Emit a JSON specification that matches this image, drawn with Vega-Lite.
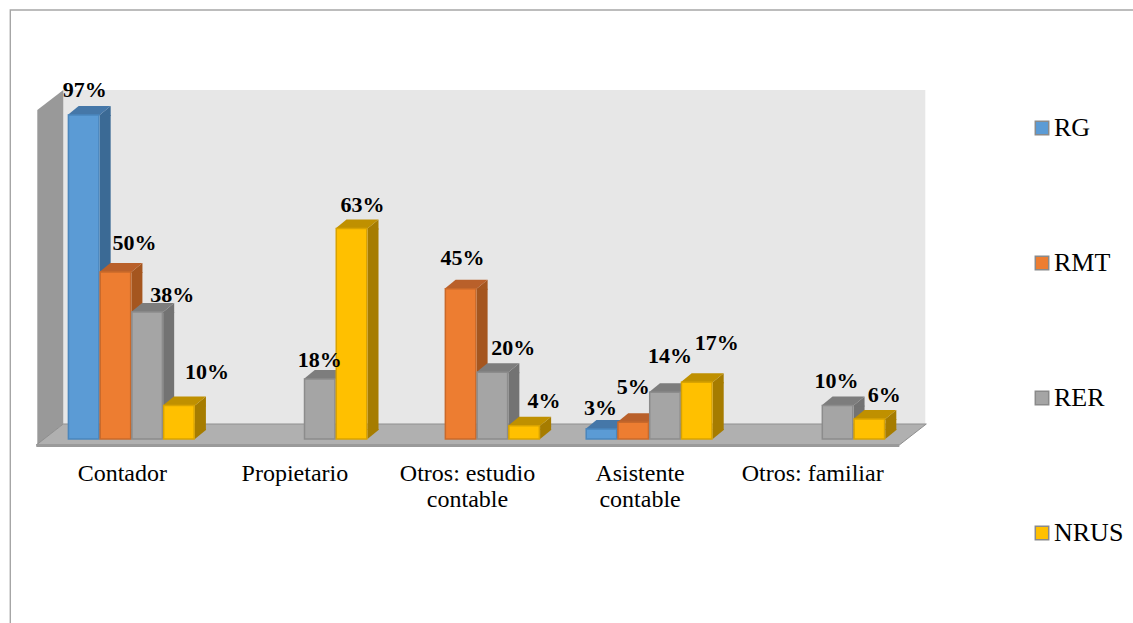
{
"$schema":"https://vega.github.io/schema/vega-lite/v6.json",
"autosize":{"type":"none"},
"padding":{"left":45,"top":0,"right":225,"bottom":184},
"width":863,"height":439,
"background":"white",
"view":{"stroke":null},
"datasets":{"barras":[
{"categoria":"Contador","serie":"RG","valor":0.97},
{"categoria":"Contador","serie":"RMT","valor":0.50},
{"categoria":"Contador","serie":"RER","valor":0.38},
{"categoria":"Contador","serie":"NRUS","valor":0.10},
{"categoria":"Propietario","serie":"RER","valor":0.18},
{"categoria":"Propietario","serie":"NRUS","valor":0.63},
{"categoria":"Otros: estudio contable","serie":"RMT","valor":0.45},
{"categoria":"Otros: estudio contable","serie":"RER","valor":0.20},
{"categoria":"Otros: estudio contable","serie":"NRUS","valor":0.04},
{"categoria":"Asistente contable","serie":"RG","valor":0.03},
{"categoria":"Asistente contable","serie":"RMT","valor":0.05},
{"categoria":"Asistente contable","serie":"RER","valor":0.14},
{"categoria":"Asistente contable","serie":"NRUS","valor":0.17},
{"categoria":"Otros: familiar","serie":"RER","valor":0.10},
{"categoria":"Otros: familiar","serie":"NRUS","valor":0.06}
],"marco":[{"categoria":"Contador","valor":0}]},
"encoding":{
"x":{"field":"categoria","type":"nominal","sort":["Contador","Propietario","Otros: estudio contable","Asistente contable","Otros: familiar"],
"scale":{"domain":["Contador","Propietario","Otros: estudio contable","Asistente contable","Otros: familiar"],"paddingInner":0.264,"paddingOuter":0.132},
"axis":{"title":null,"domain":false,"ticks":false,"labelAngle":0,"labelFont":"Liberation Serif","labelFontSize":24,"labelColor":"#000000","labelPadding":22,"labelOffset":-9,"labelLineHeight":26.5,"labelLimit":300,"labelOverlap":false,"labelBound":false,"labelFlush":false,
"labelExpr":"datum.value=='Otros: estudio contable'?['Otros: estudio','contable']:datum.value=='Asistente contable'?['Asistente','contable']:datum.label"}},
"y":{"field":"valor","type":"quantitative","scale":{"domain":[0,1.3144],"nice":false,"zero":true},"axis":null},
"xOffset":{"field":"serie","type":"nominal","sort":["RG","RMT","RER","NRUS"],"scale":{"type":"band","domain":["RG","RMT","RER","NRUS"],"padding":0,"range":[0,127]}}
},
"layer":[
{"data":{"name":"marco"},"encoding":{"xOffset":null},"mark":{"type":"point","filled":true,"opacity":1,"size":4,"fill":"#e7e7e7","strokeWidth":0,"shape":"M-68,-349 L794,-349 L794,-15 L-68,-15 Z"}},
{"data":{"name":"marco"},"encoding":{"xOffset":null},"mark":{"type":"point","filled":true,"opacity":1,"size":4,"fill":"#999999","strokeWidth":0,"shape":"M-94,-329 L-68,-349 L-68,-15 L-94,6 Z"}},
{"data":{"name":"marco"},"encoding":{"xOffset":null},"mark":{"type":"point","filled":true,"opacity":1,"size":4,"fill":"#b0b0b0","stroke":"#8f8f8f","strokeWidth":1,"shape":"M-95,6 L-68,-15 L795,-15 L768,6 Z"}},
{"data":{"name":"marco"},"encoding":{"xOffset":null},"mark":{"type":"point","filled":true,"opacity":1,"size":4,"fill":"#9a9a9a","strokeWidth":0,"shape":"M-95,5 L768,5 L768,8 L-95,8 Z"}},
{"data":{"name":"marco"},"encoding":{"xOffset":null},"mark":{"type":"point","filled":false,"opacity":1,"size":4,"stroke":"#a6a6a6","strokeWidth":1.4,"shape":"M-121,190 L-121,-429 L1009,-429"}},
{"data":{"name":"barras"},"mark":{"type":"bar","width":11,"y2Offset":-9,"opacity":1},
"encoding":{"y2":{"datum":0},
"xOffset":{"field":"serie","type":"nominal","sort":["RG","RMT","RER","NRUS"],"scale":{"type":"band","domain":["RG","RMT","RER","NRUS"],"padding":0,"range":[21.5,148.5]}},
"color":{"field":"serie","type":"nominal","legend":null,"scale":{"domain":["RG","RMT","RER","NRUS"],"range":["#3b6a95","#a5561f","#737373","#a67c00"]}}}},
{"data":{"name":"barras"},"mark":{"type":"point","filled":true,"opacity":1,"size":4,"strokeWidth":0,"shape":"M16,0 L27,-9 L27,1 L16,1 Z"},
"encoding":{"color":{"field":"serie","type":"nominal","legend":null,"scale":{"domain":["RG","RMT","RER","NRUS"],"range":["#3b6a95","#a5561f","#737373","#a67c00"]}}}},
{"data":{"name":"barras"},"mark":{"type":"point","filled":true,"opacity":1,"size":4,"strokeWidth":0,"shape":"M16,0 L27,-9 L27,-10 L16,-10 Z"},
"encoding":{"y":{"datum":0},"color":{"field":"serie","type":"nominal","legend":null,"scale":{"domain":["RG","RMT","RER","NRUS"],"range":["#3b6a95","#a5561f","#737373","#a67c00"]}}}},
{"data":{"name":"barras"},"mark":{"type":"point","filled":true,"opacity":1,"size":4,"strokeWidth":0,"shape":"M-16,0 L16,0 L27,-9 L-5,-9 Z"},
"encoding":{"color":{"field":"serie","type":"nominal","legend":null,"scale":{"domain":["RG","RMT","RER","NRUS"],"range":["#4577a8","#b9602a","#7d7d7d","#bf9000"]}}}},
{"data":{"name":"barras"},"mark":{"type":"bar","width":30.5,"opacity":1,"strokeWidth":1.5},
"encoding":{"y2":{"datum":0},
"stroke":{"field":"serie","type":"nominal","legend":null,"scale":{"domain":["RG","RMT","RER","NRUS"],"range":["#4a86bd","#c9692a","#8c8c8c","#d9a300"]}},
"color":{"field":"serie","type":"nominal","scale":{"domain":["RG","RMT","RER","NRUS"],"range":["#5b9bd5","#ed7d31","#a5a5a5","#ffc000"]},
"legend":{"orient":"none","legendX":984,"legendY":115,"title":null,"direction":"vertical","columns":1,"padding":0,"rowPadding":109,"symbolType":"square","symbolSize":180,"symbolStrokeColor":"#8a8a8a","symbolStrokeWidth":1.5,"labelFont":"Liberation Serif","labelFontSize":26,"labelColor":"#000000","labelOffset":-1,"labelLimit":200}}}},
{"data":{"name":"barras"},"mark":{"type":"text","font":"Liberation Serif","fontWeight":"bold","fontSize":22,"color":"#000000","align":"center","baseline":"middle",
"dx":{"expr":"{'Contador':{'RG':1,'RMT':19,'RER':25,'NRUS':28},'Propietario':{'RER':0,'NRUS':11},'Otros: estudio contable':{'RMT':2,'RER':21,'NRUS':20},'Asistente contable':{'RG':-1,'RMT':0,'RER':5,'NRUS':20},'Otros: familiar':{'RER':-1,'NRUS':15}}[datum.categoria][datum.serie]"},
"dy":{"expr":"{'Contador':{'RG':-25,'RMT':-29,'RER':-17,'NRUS':-34},'Propietario':{'RER':-19,'NRUS':-24},'Otros: estudio contable':{'RMT':-31,'RER':-24,'NRUS':-25},'Asistente contable':{'RG':-21,'RMT':-35,'RER':-36,'NRUS':-39},'Otros: familiar':{'RER':-25,'NRUS':-24}}[datum.categoria][datum.serie]"}},
"encoding":{"text":{"field":"valor","type":"quantitative","format":".0%"}}}
],
"resolve":{"scale":{"color":"independent","xOffset":"independent"}}
}
